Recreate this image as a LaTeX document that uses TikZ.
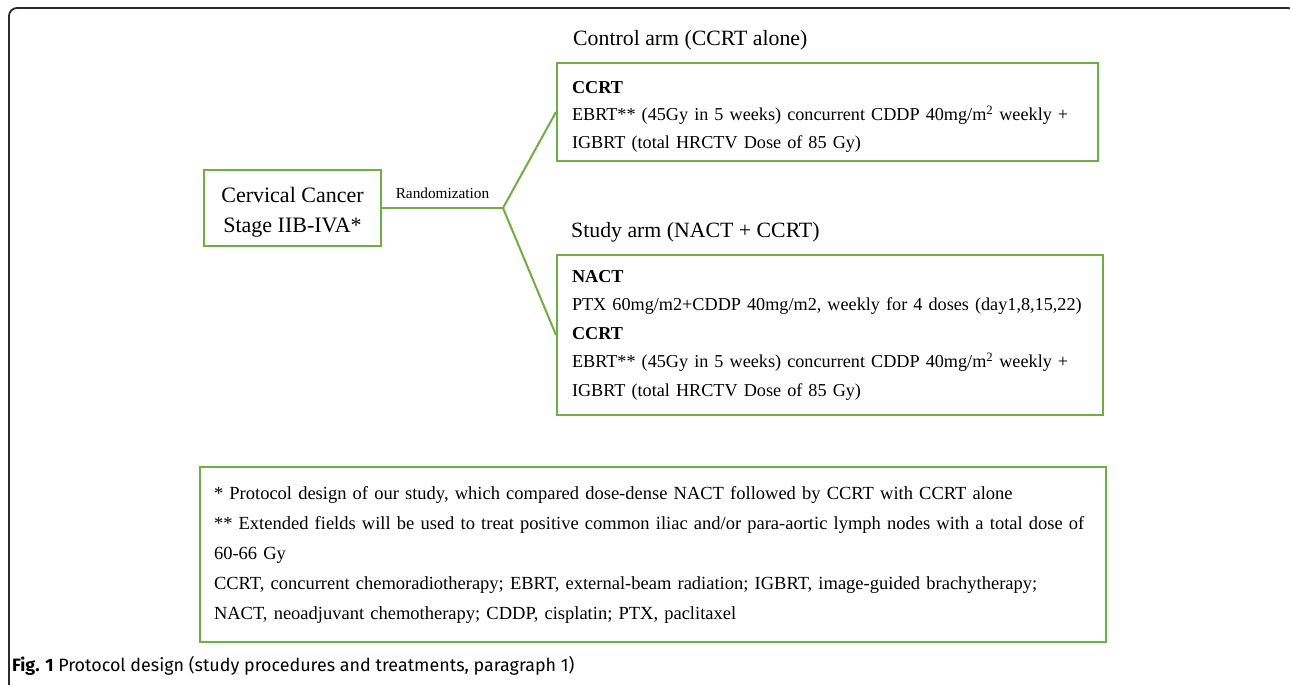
\documentclass[tikz,border=0pt]{standalone}
\usepackage{fontspec}
\setmainfont{Liberation Serif}
\newfontfamily\captionfont{Fira Sans}
\usetikzlibrary{positioning}
\definecolor{boxgreen}{HTML}{70AD47}
\definecolor{framegray}{HTML}{2B2B2B}
\newcommand{\msq}{m\textsuperscript{2}}
\newcommand{\pushdown}[1]{\rule{0pt}{#1}}

\begin{document}
\begin{tikzpicture}[x=1pt,y=-1pt,
	greenbox/.style={draw=boxgreen, line width=2pt, inner xsep=15pt, inner ysep=0pt,
		align=left, anchor=north west},
	link/.style={draw=boxgreen, line width=2pt},
	armtitle/.style={anchor=west, inner sep=0pt, font=\fontsize{21.8}{26}\selectfont},
	body/.style={font=\fontsize{18.2}{28.5}\selectfont}]
	\useasboundingbox (0,0) rectangle (1290,685);

	% outer frame of the figure
	\draw[framegray, line width=1.8pt, rounded corners=8pt]
		(9,700) -- (9,8) -- (1296,8) -- (1296,700);

	% patient group
	\node [draw=boxgreen, line width=2pt, minimum width=177pt, minimum height=76pt,
		align=center, font=\fontsize{22}{30}\selectfont] (cancer) at (292.5,207.5)
		{\pushdown{24pt}Cervical Cancer\\Stage IIB-IVA*};
	\coordinate (split) at (503,208);

	% the two arms
	\node [armtitle] (ctrltitle) at (573,40) {Control arm (CCRT alone)};
	\node [greenbox, body, text width=511pt, minimum height=98pt,
		font=\fontsize{18.2}{27.5}\selectfont] (ctrl) at (556,62)
		{\pushdown{21pt}\textbf{CCRT}\\
		EBRT** (45Gy in 5 weeks) concurrent CDDP 40mg/\msq{} weekly +\\
		IGBRT (total HRCTV Dose of 85 Gy)};

	\node [armtitle] (studytitle) at (571,232) {Study arm (NACT + CCRT)};
	\node [greenbox, body, text width=516pt, minimum height=160pt] (study) at (556,254)
		{\textbf{NACT}\\
		\mbox{PTX 60mg/m2+CDDP 40mg/m2, weekly for 4 doses (day1,8,15,22)}\\
		\textbf{CCRT}\\
		EBRT** (45Gy in 5 weeks) concurrent CDDP 40mg/\msq{} weekly +\\
		IGBRT (total HRCTV Dose of 85 Gy)};

	\draw[link] (cancer.east |- split) -- node[above=8pt, inner sep=0pt,
		font=\fontsize{15.3}{18}\selectfont] {Randomization} (split);
	\draw[link] (split) -- (ctrl.west);
	\draw[link] (split) -- (study.west);

	% footnotes
	\node [greenbox, text width=878pt, inner xsep=14pt, minimum height=175pt,
		font=\fontsize{18.5}{30}\selectfont] (notes) at (199,466)
		{{*} Protocol design of our study, which compared dose-dense NACT followed by CCRT with CCRT alone\\
		\mbox{{**} Extended fields will be used to treat positive common iliac and/or para-aortic lymph nodes with a total dose of}\\
		60-66 Gy\\
		\mbox{CCRT, concurrent chemoradiotherapy; EBRT, external-beam radiation; IGBRT, image-guided brachytherapy;}\\
		NACT, neoadjuvant chemotherapy; CDDP, cisplatin; PTX, paclitaxel};

	\node [anchor=west, inner sep=0pt, font=\captionfont\fontsize{17.9}{20}\selectfont] (caption) at (12,666)
		{\textbf{Fig. 1} Protocol design (study procedures and treatments, paragraph 1)};
\end{tikzpicture}
\end{document}
